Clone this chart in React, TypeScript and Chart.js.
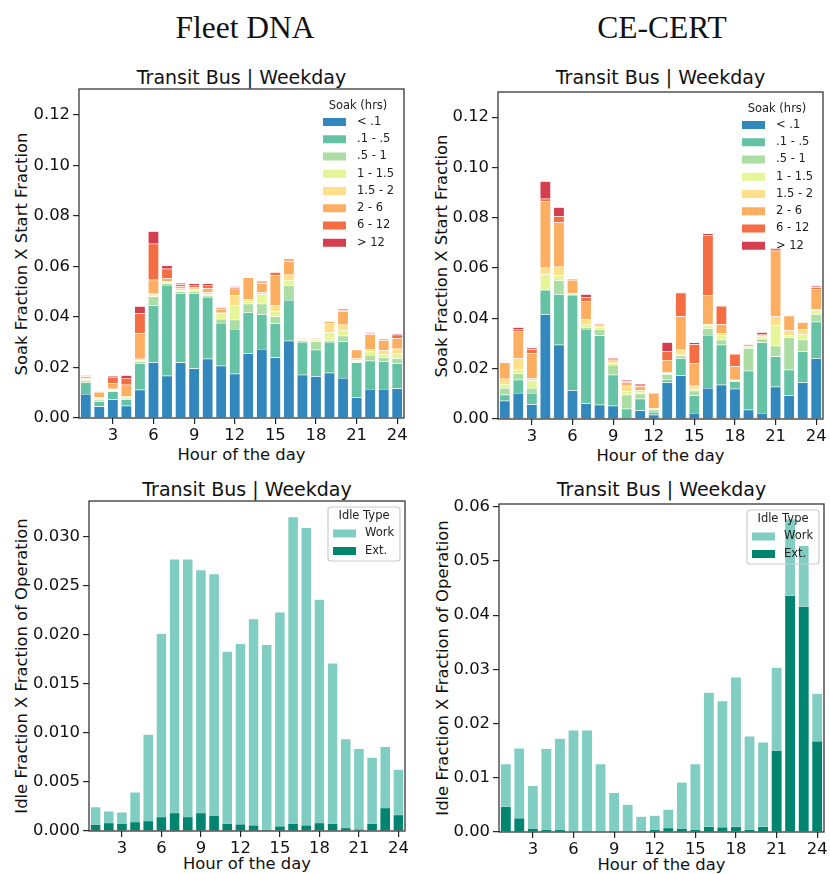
import React, { useEffect, useRef } from 'react';
import { Chart, registerables } from 'chart.js';

Chart.register(...registerables);

// ---------------- data ----------------
const hours = ['1','2','3','4','5','6','7','8','9','10','11','12','13','14','15','16','17','18','19','20','21','22','23','24'];
const hourTickLabels = ['3','6','9','12','15','18','21','24'];

const soakLabels = ['< .1', '.1 - .5', '.5 - 1', '1 - 1.5', '1.5 - 2', '2 - 6', '6 - 12', '> 12'];
const soakColors = ['#3288bd', '#66c2a5', '#abdda4', '#e6f598', '#fee08b', '#fdae61', '#f46d43', '#d53e4f'];

const idleLabels = ['Work', 'Ext.'];
const idleColors = ['#80cdc1', '#018571'];

// Fleet DNA soak segments (stacked)
const fleetLt01 = [0.0095,0.0046,0.0073,0.0049,0.0112,0.0221,0.0167,0.0220,0.0196,0.0235,0.0207,0.0175,0.0256,0.0273,0.0240,0.0306,0.0171,0.0165,0.0179,0.0158,0.0082,0.0115,0.0115,0.0117];
const fleet01to05 = [0.0047,0.0020,0.0032,0.0024,0.0104,0.0225,0.0360,0.0274,0.0298,0.0244,0.0169,0.0177,0.0163,0.0138,0.0134,0.0161,0.0130,0.0105,0.0122,0.0145,0.0138,0.0112,0.0109,0.0099];
const fleet05to1 = [0.0006,0.0006,0.0004,0.0006,0.0008,0.0035,0.0007,0.0007,0.0007,0.0005,0.0016,0.0037,0.0033,0.0041,0.0028,0.0058,0.0005,0.0033,0.0005,0.0023,0.0004,0.0023,0.0016,0.0021];
const fleet1to15 = [0.0004,0.0005,0.0004,0.0004,0.0005,0.0007,0.0004,0.0005,0.0007,0.0006,0.0022,0.0057,0.0009,0.0038,0.0020,0.0022,0.0004,0.0007,0.0033,0.0021,0.0004,0.0014,0.0013,0.0017];
const fleet15to2 = [0.0004,0.0006,0.0003,0.0004,0.0006,0.0004,0.0005,0.0007,0.0004,0.0008,0.0003,0.0039,0.0008,0.0008,0.0024,0.0020,0.0002,0.0002,0.0037,0.0022,0.0008,0.0009,0.0015,0.0020];
const fleet2to6 = [0.0008,0.0020,0.0022,0.0045,0.0101,0.0056,0.0009,0.0008,0.0006,0.0016,0.0015,0.0027,0.0087,0.0036,0.0118,0.0053,0.0002,0.0002,0.0006,0.0053,0.0034,0.0059,0.0039,0.0042];
const fleet6to12 = [0.0003,0.0001,0.0024,0.0026,0.0078,0.0142,0.0039,0.0009,0.0009,0.0013,0.0004,0.0006,0.0001,0.0005,0.0013,0.0006,0.0001,0.0002,0.0003,0.0005,0.0001,0.0004,0.0003,0.0014];
const fleetGt12 = [0.0003,0.0000,0.0004,0.0011,0.0029,0.0050,0.0013,0.0005,0.0006,0.0006,0.0002,0.0003,0.0001,0.0003,0.0003,0.0004,0.0001,0.0001,0.0001,0.0005,0.0000,0.0004,0.0004,0.0004];

// CE-CERT soak segments (stacked)
const ceLt01 = [0.0073,0.0103,0.0059,0.0416,0.0295,0.0114,0.0062,0.0057,0.0053,0.0003,0.0034,0.0017,0.0145,0.0173,0.0024,0.0123,0.0136,0.0120,0.0037,0.0024,0.0128,0.0094,0.0145,0.0242];
const ce01to05 = [0.0023,0.0053,0.0044,0.0097,0.0201,0.0379,0.0296,0.0275,0.0123,0.0038,0.0047,0.0011,0.0011,0.0069,0.0069,0.0211,0.0159,0.0029,0.0155,0.0280,0.0120,0.0102,0.0123,0.0145];
const ce05to1 = [0.0027,0.0025,0.0020,0.0002,0.0056,0.0003,0.0007,0.0025,0.0039,0.0055,0.0019,0.0009,0.0022,0.0009,0.0019,0.0027,0.0020,0.0002,0.0089,0.0014,0.0043,0.0128,0.0047,0.0029];
const ce1to15 = [0.0016,0.0015,0.0030,0.0060,0.0018,0.0002,0.0013,0.0008,0.0007,0.0014,0.0007,0.0004,0.0004,0.0007,0.0008,0.0011,0.0019,0.0002,0.0006,0.0005,0.0080,0.0010,0.0022,0.0015];
const ce15to2 = [0.0021,0.0046,0.0008,0.0026,0.0035,0.0002,0.0020,0.0006,0.0006,0.0022,0.0007,0.0003,0.0003,0.0017,0.0012,0.0005,0.0007,0.0003,0.0003,0.0005,0.0036,0.0018,0.0020,0.0006];
const ce2to6 = [0.0065,0.0108,0.0100,0.0266,0.0176,0.0053,0.0071,0.0003,0.0007,0.0013,0.0016,0.0059,0.0050,0.0132,0.0090,0.0116,0.0036,0.0053,0.0007,0.0006,0.0262,0.0058,0.0028,0.0080];
const ce6to12 = [0.0000,0.0008,0.0016,0.0009,0.0025,0.0003,0.0015,0.0003,0.0004,0.0004,0.0006,0.0001,0.0033,0.0095,0.0075,0.0238,0.0072,0.0049,0.0001,0.0003,0.0009,0.0001,0.0001,0.0006];
const ceGt12 = [0.0000,0.0007,0.0006,0.0069,0.0036,0.0001,0.0012,0.0002,0.0003,0.0006,0.0005,0.0000,0.0037,0.0001,0.0007,0.0006,0.0001,0.0001,0.0000,0.0008,0.0003,0.0000,0.0000,0.0006];

// Idle fraction (bar totals and extended-idle part)
const fleetIdleTotal = [0.00248,0.00204,0.00194,0.00398,0.00985,0.0201,0.0277,0.0277,0.0266,0.0262,0.0183,0.0191,0.0216,0.0190,0.0223,0.0320,0.0309,0.0236,0.0171,0.0094,0.0084,0.0075,0.0086,0.0063];
const fleetIdleExt = [0.00068,0.00085,0.00078,0.00095,0.00105,0.00146,0.00187,0.00146,0.00187,0.0016,0.00078,0.00071,0.00061,0.00017,0.00051,0.00078,0.00061,0.00085,0.00078,0.00034,0.0002,0.00078,0.00238,0.00166];
const ceIdleTotal = [0.0126,0.0155,0.0086,0.0154,0.0173,0.0188,0.0188,0.0126,0.0073,0.0051,0.0029,0.0031,0.0042,0.0092,0.0126,0.0258,0.0242,0.0286,0.0177,0.0166,0.0304,0.0578,0.0529,0.0256];
const ceIdleExt = [0.0047,0.0026,0.0007,0.0005,0.0005,0,0,0,0,0,0.0003,0.0005,0.0008,0.0007,0.0005,0.0010,0.0009,0.0010,0.0005,0.0010,0.0151,0.0436,0.0416,0.0168];

const soakYTicks = [0, 0.02, 0.04, 0.06, 0.08, 0.10, 0.12];
const soakYTickLabels = ['0.00', '0.02', '0.04', '0.06', '0.08', '0.10', '0.12'];
const fleetIdleYTicks = [0, 0.005, 0.010, 0.015, 0.020, 0.025, 0.030];
const fleetIdleYTickLabels = ['0.000', '0.005', '0.010', '0.015', '0.020', '0.025', '0.030'];
const ceIdleYTicks = [0, 0.01, 0.02, 0.03, 0.04, 0.05, 0.06];
const ceIdleYTickLabels = ['0.00', '0.01', '0.02', '0.03', '0.04', '0.05', '0.06'];

// ---------------- layout ----------------
const PAD_L = 62, PAD_T = 14, PAD_R = 6, PAD_B = 40;
const FONT = '"DejaVu Sans", Verdana, sans-serif';
const INK = '#111111';
const SPINE = '#262626';
const BAR_BORDER = { top: 0.5, bottom: 0, left: 0.5, right: 0.5 };

type Rect = { l: number; t: number; r: number; b: number };
type PanelCfg = {
  plot: Rect;
  yMax: number;
  yTicks: number[];
  yTickLabels: string[];
  stacked: boolean;
  datasets: any[];
  legendKind: 'soak' | 'idle';
};

function soakDatasets(series: number[][]) {
  return series.map((d, i) => ({
    label: soakLabels[i],
    data: d,
    backgroundColor: soakColors[i],
    borderColor: '#ffffff',
    borderWidth: BAR_BORDER,
    borderSkipped: false,
    barPercentage: 0.8,
    categoryPercentage: 1.0,
  }));
}

function idleDatasets(total: number[], ext: number[]) {
  // index 0 is drawn last (on top)
  return [
    { label: idleLabels[1], data: ext, backgroundColor: idleColors[1] },
    { label: idleLabels[0], data: total, backgroundColor: idleColors[0] },
  ].map((d) => ({
    ...d,
    borderColor: '#ffffff',
    borderWidth: BAR_BORDER,
    borderSkipped: false,
    barPercentage: 0.8,
    categoryPercentage: 1.0,
    grouped: false,
  }));
}

const panels: PanelCfg[] = [
  {
    plot: { l: 79, t: 89, r: 404, b: 418 },
    yMax: 0.1303,
    yTicks: soakYTicks,
    yTickLabels: soakYTickLabels,
    stacked: true,
    datasets: soakDatasets([fleetLt01, fleet01to05, fleet05to1, fleet1to15, fleet15to2, fleet2to6, fleet6to12, fleetGt12]),
    legendKind: 'soak',
  },
  {
    plot: { l: 498, t: 92, r: 823, b: 419 },
    yMax: 0.130,
    yTicks: soakYTicks,
    yTickLabels: soakYTickLabels,
    stacked: true,
    datasets: soakDatasets([ceLt01, ce01to05, ce05to1, ce1to15, ce15to2, ce2to6, ce6to12, ceGt12]),
    legendKind: 'soak',
  },
  {
    plot: { l: 89, t: 501, r: 405, b: 831 },
    yMax: 0.0336,
    yTicks: fleetIdleYTicks,
    yTickLabels: fleetIdleYTickLabels,
    stacked: false,
    datasets: idleDatasets(fleetIdleTotal, fleetIdleExt),
    legendKind: 'idle',
  },
  {
    plot: { l: 499, t: 504, r: 824, b: 832 },
    yMax: 0.0605,
    yTicks: ceIdleYTicks,
    yTickLabels: ceIdleYTickLabels,
    stacked: false,
    datasets: idleDatasets(ceIdleTotal, ceIdleExt),
    legendKind: 'idle',
  },
];

function makeDecorPlugin(kind: 'soak' | 'idle') {
  return {
    id: 'mplDecor',
    afterDatasetsDraw(chart: any) {
      const ctx = chart.ctx as CanvasRenderingContext2D;
      const a = chart.chartArea;
      ctx.save();
      // spines
      ctx.strokeStyle = SPINE;
      ctx.lineWidth = 1.2;
      ctx.strokeRect(a.left, a.top, a.right - a.left, a.bottom - a.top);

      ctx.font = `11.5px ${FONT}`;
      ctx.textBaseline = 'middle';
      if (kind === 'soak') {
        ctx.fillStyle = '#222';
        ctx.textAlign = 'center';
        ctx.fillText('Soak (hrs)', a.right - 46, a.top + 17);
        soakLabels.forEach((lab, i) => {
          const y = a.top + 33 + i * 17.25;
          ctx.fillStyle = soakColors[i];
          ctx.fillRect(a.right - 81, y - 4, 23, 8);
          ctx.fillStyle = '#222';
          ctx.textAlign = 'left';
          ctx.fillText(lab, a.right - 47, y);
        });
      } else {
        const fx = a.right - 77, fy = a.top + 6, fw = 72, fh = 54;
        ctx.beginPath();
        if ((ctx as any).roundRect) (ctx as any).roundRect(fx, fy, fw, fh, 3);
        else ctx.rect(fx, fy, fw, fh);
        ctx.strokeStyle = '#cccccc';
        ctx.lineWidth = 1.2;
        ctx.stroke();
        ctx.fillStyle = '#222';
        ctx.textAlign = 'center';
        ctx.fillText('Idle Type', a.right - 41, a.top + 15.5);
        idleLabels.forEach((lab, i) => {
          const y = a.top + 32.5 + i * 17.5;
          ctx.fillStyle = idleColors[i];
          ctx.fillRect(a.right - 72, y - 4, 23, 8);
          ctx.fillStyle = '#222';
          ctx.textAlign = 'left';
          ctx.fillText(lab, a.right - 40, y);
        });
      }
      ctx.restore();
    },
  };
}

function buildConfig(cfg: PanelCfg): any {
  const tickFont = { family: FONT, size: 16.4 };
  return {
    type: 'bar',
    data: { labels: hours, datasets: cfg.datasets },
    options: {
      animation: false,
      responsive: false,
      devicePixelRatio: 1,
      events: [],
      layout: { padding: { left: 0, top: PAD_T, right: PAD_R, bottom: 0 } },
      plugins: {
        legend: { display: false },
        tooltip: { enabled: false },
        title: { display: false },
      },
      scales: {
        x: {
          type: 'category',
          stacked: cfg.stacked,
          offset: true,
          grid: {
            offset: false,
            drawOnChartArea: false,
            drawTicks: true,
            tickLength: 6,
            color: SPINE,
            lineWidth: 1.2,
          },
          border: { display: false },
          ticks: { autoSkip: false, maxRotation: 0, minRotation: 0, padding: 2, font: tickFont, color: INK },
          afterBuildTicks: (s: any) => {
            s.ticks = hourTickLabels.map((h) => ({ value: hours.indexOf(h) }));
          },
          afterFit: (s: any) => {
            s.height = PAD_B;
          },
        },
        y: {
          type: 'linear',
          stacked: cfg.stacked,
          min: 0,
          max: cfg.yMax,
          grid: {
            drawOnChartArea: false,
            drawTicks: true,
            tickLength: 6,
            color: SPINE,
            lineWidth: 1.2,
          },
          border: { display: false },
          ticks: {
            autoSkip: false,
            padding: 3,
            font: tickFont,
            color: INK,
            callback: (_v: any, i: number) => cfg.yTickLabels[i],
          },
          afterBuildTicks: (s: any) => {
            s.ticks = cfg.yTicks.map((v) => ({ value: v }));
          },
          afterFit: (s: any) => {
            s.width = PAD_L;
          },
        },
      },
    },
    plugins: [makeDecorPlugin(cfg.legendKind)],
  };
}

function Panel({ cfg }: { cfg: PanelCfg }) {
  const ref = useRef<HTMLCanvasElement>(null);
  const w = cfg.plot.r - cfg.plot.l + PAD_L + PAD_R;
  const h = cfg.plot.b - cfg.plot.t + PAD_T + PAD_B;
  useEffect(() => {
    if (!ref.current) return;
    const chart = new Chart(ref.current, buildConfig(cfg));
    return () => chart.destroy();
  }, []);
  return (
    <canvas
      ref={ref}
      width={w}
      height={h}
      style={{ position: 'absolute', left: cfg.plot.l - PAD_L, top: cfg.plot.t - PAD_T, width: w, height: h }}
    />
  );
}

function Txt(props: { x: number; y: number; size: number; text: string; family?: string; rotate?: boolean }) {
  return (
    <div
      style={{
        position: 'absolute',
        left: props.x,
        top: props.y,
        transform: `translate(-50%, -50%)${props.rotate ? ' rotate(-90deg)' : ''}`,
        whiteSpace: 'nowrap',
        fontSize: props.size,
        lineHeight: 1,
        fontFamily: props.family || FONT,
        color: INK,
      }}
    >
      {props.text}
    </div>
  );
}

export default function App() {
  const cx = (p: Rect) => (p.l + p.r) / 2;
  const cy = (p: Rect) => (p.t + p.b) / 2;
  const [tl, tr, bl, br] = panels.map((p) => p.plot);
  const title = 'Transit Bus | Weekday';
  return (
    <div style={{ position: 'absolute', left: 0, top: 0, width: 830, height: 874, overflow: 'hidden', background: '#fff' }}>
      <Txt x={245} y={27.5} size={31.5} text="Fleet DNA" family='"Liberation Serif", "Times New Roman", serif' />
      <Txt x={662} y={27.5} size={31.5} text="CE-CERT" family='"Liberation Serif", "Times New Roman", serif' />

      <Txt x={cx(tl)} y={77} size={19} text={title} />
      <Txt x={cx(tr)} y={77} size={19} text={title} />
      <Txt x={cx(bl)} y={489} size={19} text={title} />
      <Txt x={cx(br)} y={489} size={19} text={title} />

      <Txt x={22} y={cy(tl)} size={16.4} text="Soak Fraction X Start Fraction" rotate />
      <Txt x={442} y={cy(tr)} size={16.4} text="Soak Fraction X Start Fraction" rotate />
      <Txt x={22} y={cy(bl)} size={16.4} text="Idle Fraction X Fraction of Operation" rotate />
      <Txt x={443} y={cy(br)} size={16.4} text="Idle Fraction X Fraction of Operation" rotate />

      <Txt x={cx(tl)} y={tl.b + 37} size={16.4} text="Hour of the day" />
      <Txt x={cx(tr)} y={tr.b + 37} size={16.4} text="Hour of the day" />
      <Txt x={cx(bl)} y={bl.b + 33} size={16.4} text="Hour of the day" />
      <Txt x={cx(br)} y={br.b + 33} size={16.4} text="Hour of the day" />

      {panels.map((p, i) => (
        <Panel key={i} cfg={p} />
      ))}
    </div>
  );
}
